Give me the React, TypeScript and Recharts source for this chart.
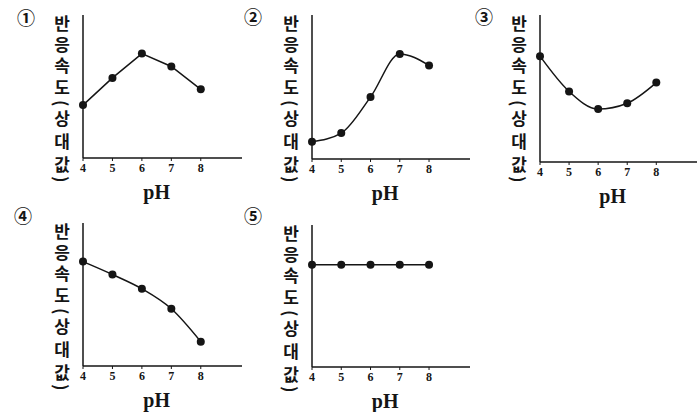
import { LineChart, Line, XAxis, YAxis } from 'recharts';

// pH on the x axis, reaction rate (relative) on the y axis
const PH = [4, 5, 6, 7, 8];
const rate1 = [37, 56, 73, 64, 48];
const rate2 = [12, 18, 43, 73, 65];
const rate3 = [72, 48, 36, 40, 54];
const rate4 = [73, 64, 54, 40, 17];
const rate5 = [72, 72, 72, 72, 72];

const yTitle = ['반', '응', '속', '도', '(', '상', '대', '값', ')'];
const yTitleOffsets = [9, 30, 51, 73, 88, 104, 127, 150, 164];

const INK = '#151515';
const X_MAX = 9.4;
const PAD_TOP = 25;

const YLabel = (props: any) => {
  const { viewBox, num, numDx, numDy } = props;
  // axis line sits on the right edge of the y axis box
  const x0 = viewBox.x + viewBox.width;
  const y0 = viewBox.y;
  return (
    <g>
      <text
        x={x0 + numDx}
        y={y0 + numDy}
        textAnchor="middle"
        dominantBaseline="central"
        fontFamily="'Noto Sans CJK KR', 'DejaVu Sans'"
        fontSize={18}
        fontWeight={700}
        fill={INK}
      >
        {num}
      </text>
      {/* one glyph per text, set vertically so brackets turn sideways */}
      {yTitle.map((ch, i) => {
        const paren = ch === '(' || ch === ')';
        return (
          <text
            key={i}
            x={x0 - 21}
            y={y0 + yTitleOffsets[i] - (paren ? 3 : 8.5)}
            fontFamily="'Noto Sans CJK KR'"
            fontSize={17}
            fontWeight={700}
            fill={INK}
            style={{ writingMode: 'vertical-rl' }}
          >
            {ch}
          </text>
        );
      })}
    </g>
  );
};

const PhLabel = (props: any) => {
  const { viewBox } = props;
  const x = viewBox.x + ((6.5 - 4) / (X_MAX - 4)) * viewBox.width;
  return (
    <text
      x={x}
      y={viewBox.y + 34}
      textAnchor="middle"
      dominantBaseline="central"
      fontFamily="'Liberation Serif', serif"
      fontSize={20}
      fontWeight={700}
      fill={INK}
    >
      pH
    </text>
  );
};

interface PanelProps {
  num: string;
  values: number[];
  curve: 'linear' | 'monotone';
  axisX: number;
  top: number;
  bottom: number;
  right: number;
  numDx: number;
  numDy: number;
}

const Panel = ({ num, values, curve, axisX, top, bottom, right, numDx, numDy }: PanelProps) => {
  const data = PH.map((p, i) => ({ ph: p, rate: values[i] }));
  const width = right - axisX + 80;
  const height = bottom - top + PAD_TOP + 50;
  return (
    <div style={{ position: 'absolute', left: axisX - 80, top: top - PAD_TOP }}>
      <LineChart width={width} height={height} data={data} margin={{ top: PAD_TOP, left: 40, right: 0, bottom: 10 }}>
        <XAxis
          dataKey="ph"
          type="number"
          domain={[4, X_MAX]}
          ticks={PH}
          height={40}
          interval={0}
          axisLine={{ stroke: INK, strokeWidth: 1.5 }}
          tickLine={{ stroke: INK }}
          tickSize={3}
          tickMargin={2}
          tick={{ fill: INK, fontSize: 12, fontWeight: 700, fontFamily: "'Liberation Serif', serif" }}
          label={<PhLabel />}
        />
        <YAxis
          type="number"
          domain={[0, 100]}
          width={40}
          tick={false}
          tickLine={false}
          axisLine={{ stroke: INK, strokeWidth: 1.5 }}
          label={<YLabel num={num} numDx={numDx} numDy={numDy} />}
        />
        <Line
          type={curve}
          dataKey="rate"
          stroke={INK}
          strokeWidth={1.5}
          dot={{ r: 4, fill: INK, stroke: INK, strokeWidth: 0 }}
          activeDot={false}
          isAnimationActive={false}
        />
      </LineChart>
    </div>
  );
};

export default function App() {
  return (
    <div
      style={{
        position: 'absolute',
        left: 0,
        top: 0,
        width: 697,
        height: 412,
        overflow: 'hidden',
        background: '#fff',
      }}
    >
      <Panel num="①" values={rate1} curve="linear" axisX={83} top={15} bottom={158} right={242} numDx={-57} numDy={2} />
      <Panel num="②" values={rate2} curve="monotone" axisX={312} top={15} bottom={159} right={470} numDx={-59} numDy={1} />
      <Panel num="③" values={rate3} curve="monotone" axisX={540} top={15} bottom={162} right={697} numDx={-56} numDy={1} />
      <Panel num="④" values={rate4} curve="monotone" axisX={83} top={223} bottom={366} right={242} numDx={-60} numDy={-8} />
      <Panel num="⑤" values={rate5} curve="linear" axisX={312} top={225} bottom={367} right={470} numDx={-59} numDy={-10} />
    </div>
  );
}
